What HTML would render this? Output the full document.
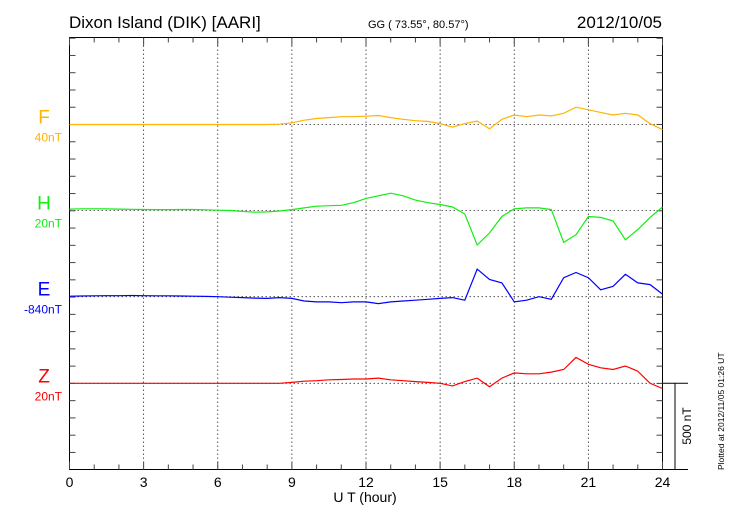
<!DOCTYPE html>
<html><head><meta charset="utf-8"><style>
body{margin:0;background:#fff;}
svg{display:block;font-family:"Liberation Sans",sans-serif;}
</style></head><body>
<svg id="chart" width="730" height="520" viewBox="0 0 730 520">
<text x="69" y="28" font-size="17">Dixon Island (DIK)  [AARI]</text>
<text x="368" y="28" font-size="11">GG ( 73.55°,  80.57°)</text>
<text x="662" y="28" font-size="17" text-anchor="end">2012/10/05</text>
<g id="grid"></g>
<g id="axes"></g>
<g id="series"></g>
<text x="365" y="502" font-size="14" text-anchor="middle">U T (hour)</text>
<text transform="translate(724,470) rotate(-90)" font-size="8.5">Plotted at 2012/11/05 01:26 UT</text>
<text transform="translate(691,426) rotate(-90)" font-size="12" text-anchor="middle">500 nT</text>
</svg>
<script>
const hours=[0,3,6,9,12,15,18,21,24];
const components=["F","H","E","Z"];
const baseLabels=["40nT","20nT","-840nT","20nT"];
const colors=["#ffb400","#11ee11","#0000ff","#ff0000"];
// deviations in nT at 0.5 h steps (0..24)
const fVals=[0,0,0,0,0,0,0,0,0,0,0,0,0,0,0,0,0,2,10,25,35,40,45,45,48,52,40,30,22,18,5,-15,5,20,-25,30,55,45,55,50,65,100,85,70,55,65,55,5,-30];
const hVals=[8,10,10,9,8,7,6,5,5,6,6,4,2,0,-5,-10,-8,-3,5,15,25,28,30,45,70,85,100,85,60,45,35,20,-20,-200,-130,-35,10,15,15,5,-185,-140,-35,-40,-60,-170,-110,-40,20];
const eVals=[3,4,5,6,6,7,6,5,5,4,3,2,0,-3,-5,-8,-10,-5,-10,-25,-30,-30,-35,-30,-30,-40,-30,-25,-20,-15,-10,-5,-20,160,100,80,-30,-20,0,-15,110,140,110,40,60,130,80,70,15];
const zVals=[0,0,0,0,0,0,0,0,0,0,0,0,0,0,0,0,0,0,5,12,15,20,22,25,25,30,20,15,10,5,0,-15,10,30,-20,30,60,55,55,65,80,150,110,90,80,100,70,0,-30];
const series=[fVals,hVals,eVals,zVals];
const X0=69.5,X1=662.5,Y0=37.5,Y1=469.5;
const baselines=[124.5,210.5,296.7,383.3];
const pxPerNT=86.3/500;
const xs=t=>X0+(X1-X0)*t/24;
const ys=(i,v)=>baselines[i]-v*pxPerNT;
const NS="http://www.w3.org/2000/svg";
function mk(tag,attrs,parent){const e=document.createElementNS(NS,tag);for(const k in attrs)e.setAttribute(k,attrs[k]);parent.appendChild(e);return e;}
const grid=document.getElementById('grid'),axes=document.getElementById('axes'),ser=document.getElementById('series');
// vertical gridlines
hours.forEach(h=>{if(h>0&&h<24){const l=mk('line',{x1:xs(h),x2:xs(h),y1:Y0,y2:Y1,stroke:'#333','stroke-width':0.8,'stroke-dasharray':'1.5,2.5'},grid);

}});
// baselines
baselines.forEach((b,i)=>{const l=mk('line',{x1:X0,x2:X1,y1:b,y2:b,stroke:'#333','stroke-width':0.8,'stroke-dasharray':'1.5,2.5'},grid);

});
// frame
const fr=mk('rect',{x:X0,y:Y0,width:X1-X0,height:Y1-Y0,fill:'none',stroke:'#000','stroke-width':1},axes);


// ticks
for(let h=0;h<=24;h++){const len=(h%3===0)?8:5;
mk('line',{x1:xs(h),x2:xs(h),y1:Y0,y2:Y0+len,stroke:'#444'},axes);
mk('line',{x1:xs(h),x2:xs(h),y1:Y1,y2:Y1-len,stroke:'#444'},axes);}
for(let y=baselines[0]-5*17.26;y<Y1;y+=17.26){
mk('line',{x1:X0,x2:X0+6,y1:y,y2:y,stroke:'#444'},axes);
mk('line',{x1:X1,x2:X1-6,y1:y,y2:y,stroke:'#444'},axes);}
hours.forEach(h=>{const t=mk('text',{x:xs(h),y:487,'font-size':14,'text-anchor':'middle'},axes);t.textContent=h;

});
// scale bar
const sb=mk('path',{d:`M${X1},${baselines[3]}H688M675,${baselines[3]}V${Y1}M${X1},${Y1}H688`,stroke:'#000',fill:'none','stroke-width':1},axes);


// series
series.forEach((vals,i)=>{
const pts=vals.map((v,k)=>xs(k*0.5).toFixed(1)+','+ys(i,v).toFixed(1)).join(' ');
const p=mk('polyline',{points:pts,fill:'none',stroke:colors[i],'stroke-width':1.2},ser);


const t=mk('text',{x:44,y:baselines[i]-1,'font-size':19,'text-anchor':'middle',fill:colors[i]},ser);t.textContent=components[i];


const b=mk('text',{x:62,y:baselines[i]+17,'font-size':12,'text-anchor':'end',fill:colors[i]},ser);b.textContent=baseLabels[i];


});
</script>
</body></html>
